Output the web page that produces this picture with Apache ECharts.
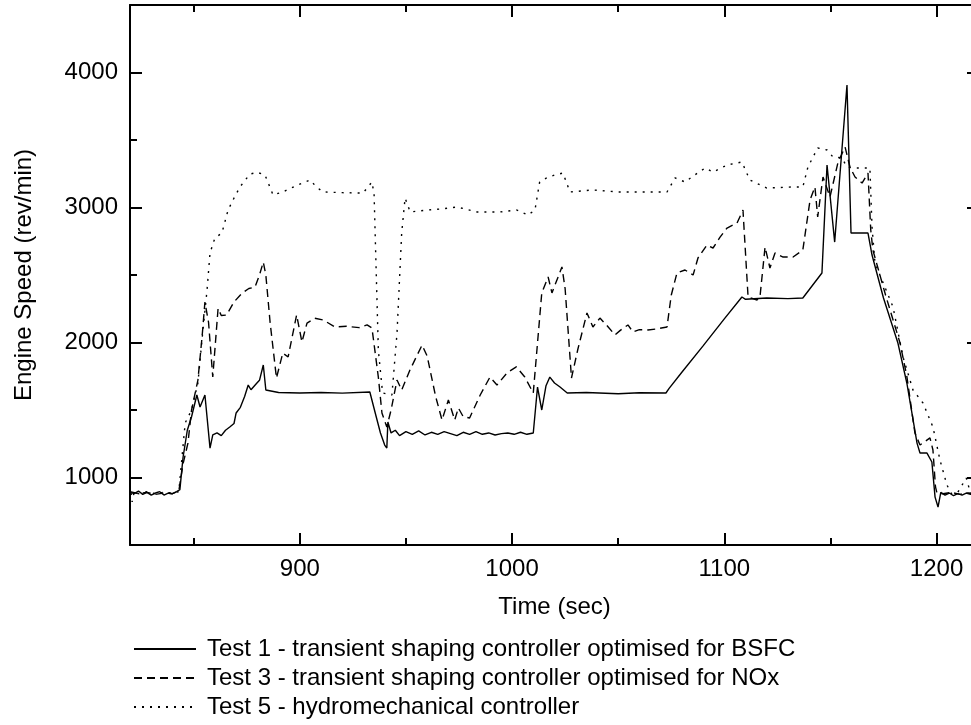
<!DOCTYPE html>
<html>
<head>
<meta charset="utf-8">
<title>Engine Speed</title>
<script src="https://cdn.jsdelivr.net/npm/echarts@6.0.0/dist/echarts.min.js"></script>
<style>
    html, body { margin: 0; padding: 0; overflow: hidden; background: #fff; }
    #chart1 { width: 980px; height: 725px; }
</style>
</head>
<body>
<div id="chart1"></div>
<script>
var seriesNames = [
    'Test 1 - transient shaping controller optimised for BSFC',
    'Test 3 - transient shaping controller optimised for NOx',
    'Test 5 - hydromechanical controller'
];

// [time (sec), engine speed (rev/min)]
var test1 = [
    [820, 890], [822, 880], [824, 900], [826, 875], [828, 890], [830, 870], [832, 885], [834, 895],
    [836, 870], [838, 885], [840, 880], [842, 895], [843.5, 910], [845, 1150], [847, 1350], [849, 1450],
    [851.5, 1611], [853, 1522], [855.3, 1611], [857.7, 1218], [859, 1315], [861, 1330], [863, 1310],
    [865, 1350], [867, 1374], [869, 1400], [870, 1478], [872, 1520], [874, 1600], [875.7, 1685],
    [877, 1650], [879.8, 1700], [881, 1720], [882.8, 1833], [884, 1648], [890, 1630], [900, 1626],
    [910, 1630], [920, 1625], [933, 1633], [936, 1450], [938, 1330], [940, 1240], [941, 1218],
    [941.5, 1411], [943, 1330], [945, 1350], [947, 1310], [950, 1340], [953, 1320], [956, 1345],
    [959, 1315], [962, 1335], [965, 1320], [968, 1340], [971, 1325], [974, 1310], [977, 1335],
    [980, 1320], [983, 1340], [986, 1320], [989, 1330], [992, 1315], [995, 1325], [998, 1330],
    [1001, 1320], [1004, 1335], [1007, 1320], [1010, 1330], [1012, 1670], [1014, 1500], [1016, 1680],
    [1017.8, 1744], [1020, 1700], [1022.6, 1670], [1026, 1626], [1035, 1630], [1050, 1620],
    [1060, 1628], [1072.5, 1626], [1074, 1660], [1080, 1780], [1090, 1975], [1100, 2175],
    [1108.3, 2337], [1110, 2320], [1120, 2330], [1130, 2325], [1137, 2330], [1146, 2515],
    [1148.4, 3315], [1152, 2744], [1157.8, 3907], [1159.7, 2811], [1167.7, 2811], [1169.6, 2648],
    [1175, 2330], [1181.8, 1996], [1186, 1700], [1190.8, 1255], [1192.2, 1181], [1195.5, 1181],
    [1197.8, 1115], [1199.3, 855], [1200.7, 781], [1202, 890], [1204, 870], [1206, 885], [1208, 865],
    [1210, 880], [1212, 870], [1214, 885], [1216, 875], [1218, 890], [1220, 880]
];

var test3 = [
    [820, 895], [824, 880], [828, 890], [832, 875], [836, 885], [840, 880], [843, 900], [845, 1100],
    [847.3, 1255], [849, 1500], [852, 1722], [854, 2050], [855.3, 2300], [857, 2150], [859, 1744],
    [861.5, 2253], [863, 2200], [865.5, 2203], [869, 2300], [872.8, 2366], [876, 2400], [878.9, 2411],
    [881, 2500], [882.8, 2596], [884, 2500], [886, 2150], [889, 1737], [892, 1922], [894.5, 1893],
    [898.5, 2204], [901, 2004], [903.4, 2144], [907, 2180], [911, 2167], [916.6, 2115], [922, 2120],
    [928, 2110], [931.7, 2130], [934, 2107], [937, 1744], [938.7, 1478], [941, 1374], [943, 1500],
    [945.8, 1722], [948, 1648], [952, 1800], [957.6, 1981], [960, 1900], [964, 1600], [967, 1426],
    [970, 1574], [973, 1426], [974.7, 1515], [977, 1450], [980, 1441], [985, 1611], [989.6, 1744],
    [992.9, 1685], [997.6, 1774], [1002, 1820], [1006, 1744], [1010, 1626], [1014, 2367],
    [1017, 2485], [1018.8, 2367], [1023.5, 2560], [1025, 2400], [1028, 1737], [1031, 1950],
    [1035.3, 2219], [1038.1, 2115], [1041.4, 2181], [1045, 2120], [1048.5, 2056], [1051, 2090],
    [1054.6, 2130], [1057, 2078], [1060, 2095], [1064, 2093], [1068, 2100], [1073, 2115],
    [1075, 2350], [1077.7, 2515], [1081.5, 2537], [1085.3, 2500], [1087.6, 2626], [1091.8, 2722],
    [1094.7, 2700], [1098, 2780], [1101.3, 2848], [1106, 2885], [1108.8, 2981], [1111.2, 2337],
    [1115.4, 2315], [1116.8, 2337], [1119.2, 2707], [1121.5, 2552], [1123.9, 2663], [1127.7, 2633],
    [1132.4, 2633], [1137, 2685], [1140.4, 3055], [1142.7, 3152], [1144, 2930], [1146.5, 3226],
    [1149.8, 3078], [1153.6, 3337], [1156.9, 3448], [1159.2, 3300], [1161.6, 3226], [1164.9, 3181],
    [1167.7, 3255], [1169, 2833], [1170, 2685], [1176, 2350], [1182.8, 1996], [1186, 1750],
    [1189.8, 1330], [1192.2, 1241], [1196.9, 1293], [1198.3, 1204], [1199.5, 930], [1200.2, 885],
    [1203, 880], [1207, 890], [1211, 875], [1215, 885], [1220, 880]
];

var test5 = [
    [820, 944], [821, 819], [822, 900], [824, 880], [828, 895], [832, 880], [836, 890], [840, 885],
    [843, 895], [846, 1404], [849, 1500], [852, 1700], [853.9, 2019], [856.3, 2389], [857.7, 2663],
    [860, 2774], [863.3, 2811], [866.2, 2981], [869, 3070], [871.8, 3152], [876.5, 3248], [880, 3260],
    [883.6, 3241], [887.4, 3093], [892, 3115], [898, 3160], [904.8, 3204], [908, 3150], [911, 3115],
    [920, 3110], [929.8, 3107], [934, 3189], [935, 3100], [937, 1944], [939, 1626], [943.4, 1611],
    [945.8, 2070], [948, 2811], [949.6, 3070], [952, 2967], [960, 2981], [967, 2990], [974, 3004],
    [983.5, 2967], [994.3, 2967], [1002.3, 2981], [1007.5, 2944], [1010.8, 2981], [1013, 3189],
    [1016.3, 3219], [1020, 3240], [1024, 3255], [1027.3, 3115], [1038, 3130], [1050, 3115],
    [1060, 3115], [1073, 3115], [1076.8, 3219], [1081.5, 3189], [1086, 3240], [1091, 3293],
    [1094.7, 3263], [1101.3, 3315], [1108.3, 3337], [1112, 3204], [1120, 3144], [1132.4, 3152],
    [1137, 3152], [1139.4, 3300], [1144, 3441], [1148.4, 3426], [1151.2, 3374], [1155.4, 3367],
    [1157.8, 3300], [1161.6, 3293], [1168.6, 3293], [1169.6, 2855], [1171, 2589], [1179.5, 2263],
    [1184.2, 1893], [1188.9, 1648], [1193.6, 1552], [1198.3, 1374], [1201.6, 1130], [1204.9, 944],
    [1207, 880], [1210, 890], [1214, 996], [1216, 885], [1220, 880]
];

var xRange = [820, 1220];
var yRange = [500, 4500];

var fontName = '"Liberation Sans", Arial, sans-serif';

getChartSpeed();

function axisBase(showLabel, step) {
    return {
        type: 'value',
        splitNumber: 4,
        axisLine: { show: true, onZero: false, lineStyle: { color: '#000', width: 2 } },
        axisTick: { show: true, inside: true, length: 12, lineStyle: { color: '#000', width: 2 } },
        minorTick: { show: true, splitNumber: 2, length: 7, lineStyle: { color: '#000', width: 2 } },
        splitLine: { show: false },
        axisLabel: {
            show: showLabel,
            color: '#000',
            fontSize: 24,
            fontFamily: fontName,
            margin: 12,
            showMinLabel: false,
            showMaxLabel: false,
            formatter: function(v) {
                return v % step === 0 ? String(v) : '';
            }
        }
    };
}

function getChartSpeed() {
    var chart1 = echarts.init(document.getElementById('chart1'), null, { renderer: 'canvas' });

    var xBottom = axisBase(true, 100);
    xBottom.position = 'bottom';
    xBottom.min = xRange[0];
    xBottom.max = xRange[1];
    xBottom.name = 'Time (sec)';
    xBottom.nameLocation = 'middle';
    xBottom.nameGap = 50;
    xBottom.nameTextStyle = { color: '#000', fontSize: 24, fontFamily: fontName };

    var xTop = axisBase(false, 100);
    xTop.position = 'top';
    xTop.min = xRange[0];
    xTop.max = xRange[1];

    var yLeft = axisBase(true, 1000);
    yLeft.position = 'left';
    yLeft.min = yRange[0];
    yLeft.max = yRange[1];
    yLeft.name = 'Engine Speed (rev/min)';
    yLeft.nameLocation = 'middle';
    yLeft.nameGap = 94;
    yLeft.nameTextStyle = { color: '#000', fontSize: 24, fontFamily: fontName };

    var yRight = axisBase(false, 1000);
    yRight.position = 'right';
    yRight.min = yRange[0];
    yRight.max = yRange[1];

    var lineTypes = ['solid', [8, 5], [2, 6]];
    var allData = [test1, test3, test5];
    var series = [];
    for (var i = 0; i < allData.length; i++) {
        series.push({
            name: seriesNames[i],
            type: 'line',
            xAxisIndex: 0,
            yAxisIndex: 0,
            symbol: 'none',
            smooth: false,
            data: allData[i],
            lineStyle: { color: '#000', width: 1.4, type: lineTypes[i] },
            itemStyle: { color: '#000' },
            z: 3 - i
        });
    }

    var option = {
        animation: false,
        backgroundColor: '#fff',
        grid: { left: 130, top: 5, width: 849, height: 540, containLabel: false },
        legend: {
            orient: 'vertical',
            left: 133,
            top: 637,
            padding: 0,
            itemWidth: 62,
            itemHeight: 14,
            itemGap: 5,
            selectedMode: false,
            data: seriesNames,
            // hide the marker dot, keep the line sample
            itemStyle: { color: 'transparent', borderColor: 'transparent', borderWidth: 0, opacity: 0 },
            textStyle: { color: '#000', fontSize: 24, fontFamily: fontName, padding: [0, 0, 0, 6] }
        },
        xAxis: [xBottom, xTop],
        yAxis: [yLeft, yRight],
        series: series
    };
    chart1.setOption(option);
}
</script>
</body>
</html>
